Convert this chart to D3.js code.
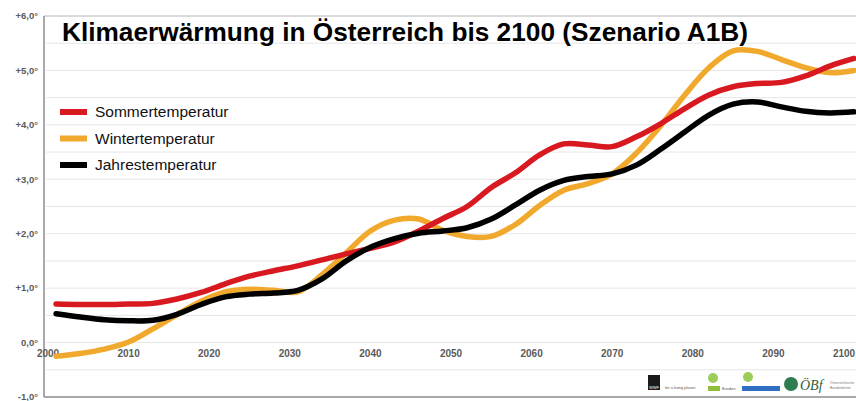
<!DOCTYPE html>
<html lang="de">

<head>
    <meta charset="UTF-8">
    <title>Klimaerwärmung in Österreich</title>
    <script src="https://d3js.org/d3.v7.min.js"></script>
    <style>
        html,
        body {
            margin: 0;
            padding: 0;
            background: white;
        }

        svg {
            display: block;
            font-family: 'Liberation Sans', Arial, sans-serif;
        }
    </style>
</head>

<body>
    <div class="content"></div>
    <script>
        // values (degrees of warming)
        const years = [2001, 2004, 2007, 2010, 2013, 2016, 2019, 2022, 2025, 2028, 2031, 2034, 2037, 2040, 2043, 2046, 2049,
            2052, 2055, 2058, 2061, 2064, 2067, 2070, 2073, 2076, 2079, 2082, 2085, 2088, 2091, 2094, 2097, 2100];

        const sommer = [0.71, 0.70, 0.70, 0.71, 0.72, 0.80, 0.92, 1.08, 1.22, 1.32, 1.41, 1.52, 1.63, 1.73, 1.85, 2.05, 2.28,
            2.50, 2.85, 3.12, 3.45, 3.65, 3.63, 3.60, 3.78, 4.02, 4.30, 4.55, 4.70, 4.76, 4.78, 4.90, 5.08, 5.22];

        const winter = [-0.25, -0.20, -0.12, 0.01, 0.25, 0.51, 0.76, 0.93, 0.98, 0.96, 0.93, 1.25, 1.65, 2.05, 2.25, 2.27, 2.06,
            1.95, 1.95, 2.17, 2.52, 2.80, 2.92, 3.10, 3.48, 3.98, 4.55, 5.05, 5.36, 5.35, 5.20, 5.05, 4.96, 5.00];

        const jahres = [0.53, 0.47, 0.42, 0.40, 0.41, 0.52, 0.70, 0.84, 0.89, 0.91, 0.96, 1.17, 1.50, 1.75, 1.91, 2.01, 2.05,
            2.11, 2.27, 2.53, 2.80, 2.98, 3.05, 3.10, 3.26, 3.55, 3.87, 4.18, 4.38, 4.42, 4.33, 4.25, 4.22, 4.24];

        const seriesNames = ["Sommertemperatur", "Wintertemperatur", "Jahrestemperatur"];
        const seriesColors = ["#d81920", "#f0a92c", "#000000"];

        const yTicks = [-1, 0, 1, 2, 3, 4, 5, 6];
        const yTickLabels = ["-1,0°", "0,0°", "+1,0°", "+2,0°", "+3,0°", "+4,0°", "+5,0°", "+6,0°"];
        const xTicks = [2000, 2010, 2020, 2030, 2040, 2050, 2060, 2070, 2080, 2090, 2100];

        const w = 856;
        const h = 401;

        const x = d3.scaleLinear().domain([2000, 2100]).range([48, 854]);
        const y = d3.scaleLinear().domain([-1, 6]).range([397, 16]);

        const svg = d3.select(".content")
            .append("svg")
            .attr("width", w)
            .attr("height", h);

        // grid lines every half degree
        svg.selectAll("line.grid")
            .data(d3.range(-0.5, 6, 0.5))
            .enter()
            .append("line")
            .attr("class", "grid")
            .attr("x1", 46)
            .attr("x2", w)
            .attr("y1", d => y(d))
            .attr("y2", d => y(d))
            .attr("stroke", "#e6e6e6")
            .attr("stroke-width", 1);

        // frame
        svg.append("line")
            .attr("x1", 44).attr("x2", w)
            .attr("y1", y(6)).attr("y2", y(6))
            .attr("stroke", "#b5b5b5").attr("stroke-width", 1.2);
        svg.append("line")
            .attr("x1", 44).attr("x2", w)
            .attr("y1", y(-1)).attr("y2", y(-1))
            .attr("stroke", "#8c8c8c").attr("stroke-width", 1.5);
        svg.append("line")
            .attr("x1", 44).attr("x2", 44)
            .attr("y1", y(6)).attr("y2", y(-1))
            .attr("stroke", "#8c8c8c").attr("stroke-width", 1.5);

        // y labels
        svg.selectAll("text.ylab")
            .data(yTicks)
            .enter()
            .append("text")
            .attr("class", "ylab")
            .text((d, i) => yTickLabels[i])
            .attr("x", 38)
            .attr("y", d => y(d))
            .attr("dy", "0.35em")
            .attr("text-anchor", "end")
            .attr("fill", "#5a5a5a")
            .attr("font-size", "9.5px")
            .attr("font-weight", "bold");

        // x labels just under the zero line
        svg.selectAll("text.xlab")
            .data(xTicks)
            .enter()
            .append("text")
            .attr("class", "xlab")
            .text(d => d)
            .attr("x", d => d === 2100 ? x(d) - 10 : x(d))
            .attr("y", y(0) + 14)
            .attr("text-anchor", "middle")
            .attr("fill", "#5a5a5a")
            .attr("font-size", "10px")
            .attr("font-weight", "bold");

        // curves
        const seriesData = [sommer, winter, jahres];
        const line = d3.line()
            .x((d, i) => x(years[i]))
            .y(d => y(d))
            .curve(d3.curveCatmullRom.alpha(0.5));

        // winter first, then summer, black on top
        [1, 0, 2].forEach(function (k) {
            svg.append("path")
                .datum(seriesData[k])
                .attr("d", line)
                .attr("fill", "none")
                .attr("stroke", seriesColors[k])
                .attr("stroke-width", 5.5)
                .attr("stroke-linejoin", "round")
                .attr("stroke-linecap", "round");
        });

        // title
        svg.append("text")
            .text("Klimaerwärmung in Österreich bis 2100 (Szenario A1B)")
            .attr("x", 62)
            .attr("y", 41)
            .attr("font-size", "25px")
            .attr("font-weight", "bold")
            .attr("fill", "#000")
            .attr("textLength", 686)
            .attr("lengthAdjust", "spacingAndGlyphs");

        // legend
        const legend = svg.selectAll("g.legend")
            .data(seriesNames)
            .enter()
            .append("g")
            .attr("class", "legend")
            .attr("transform", (d, i) => "translate(60," + (112 + i * 26.5) + ")");

        legend.append("line")
            .attr("x1", 0).attr("x2", 27)
            .attr("y1", 0).attr("y2", 0)
            .attr("stroke", (d, i) => seriesColors[i])
            .attr("stroke-width", 6);

        legend.append("text")
            .text(d => d)
            .attr("x", 35)
            .attr("y", 0)
            .attr("dy", "0.35em")
            .attr("font-size", "15.5px")
            .attr("fill", "#111");

        // sponsor logos, bottom right
        const logos = svg.append("g");
        logos.append("rect").attr("x", 648).attr("y", 375).attr("width", 12).attr("height", 15).attr("fill", "#1a1a1a");
        logos.append("text").text("WWF").attr("x", 654).attr("y", 389).attr("text-anchor", "middle")
            .attr("font-size", "4px").attr("fill", "#fff");
        logos.append("text").text("for a living planet").attr("x", 665).attr("y", 389)
            .attr("font-size", "4px").attr("fill", "#555");
        logos.append("circle").attr("cx", 713).attr("cy", 378).attr("r", 5).attr("fill", "#9ccc5a");
        logos.append("rect").attr("x", 708).attr("y", 386).attr("width", 12).attr("height", 5).attr("fill", "#8fbf3a");
        logos.append("text").text("Bundes").attr("x", 722).attr("y", 390).attr("font-size", "4px").attr("fill", "#555");
        logos.append("circle").attr("cx", 748).attr("cy", 377).attr("r", 5).attr("fill", "#9ccc5a");
        logos.append("rect").attr("x", 742).attr("y", 386).attr("width", 38).attr("height", 5).attr("fill", "#2f6fc4");
        logos.append("circle").attr("cx", 791).attr("cy", 384).attr("r", 7).attr("fill", "#2e7d4f");
        logos.append("text").text("ÖBf").attr("x", 800).attr("y", 390)
            .attr("font-family", "'Liberation Serif', serif").attr("font-style", "italic")
            .attr("font-size", "14px").attr("fill", "#2e5e3e");
        logos.append("text").text("Österreichische").attr("x", 830).attr("y", 384).attr("font-size", "3.5px").attr("fill", "#777");
        logos.append("text").text("Bundesforste").attr("x", 830).attr("y", 389).attr("font-size", "3.5px").attr("fill", "#777");
    </script>
</body>

</html>
